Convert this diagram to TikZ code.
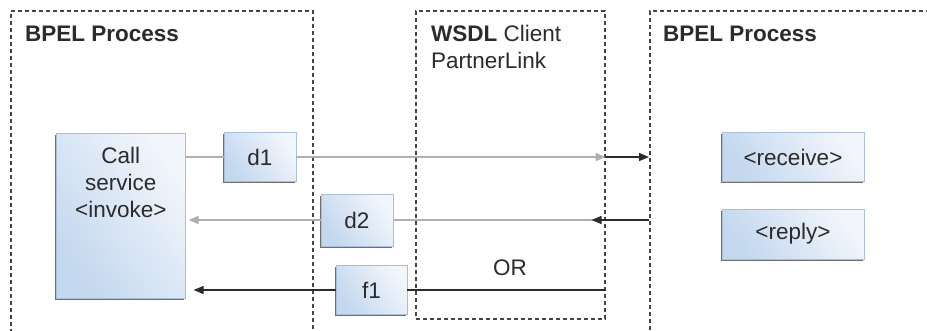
\documentclass[tikz,border=0pt]{standalone}
\usepackage{fontspec}
\setmainfont{Liberation Sans}
\usepackage{tikz}
\usetikzlibrary{positioning,arrows.meta,calc,shadows}
\definecolor{boxlo}{HTML}{C3D7EE}
\definecolor{boxhi}{HTML}{F2F6FC}
\definecolor{boxedge}{HTML}{A9BFD9}
\definecolor{msggray}{HTML}{B3ADAD}
\definecolor{ink}{HTML}{2B2B2B}
\definecolor{framegray}{HTML}{444444}

\begin{document}
\begin{tikzpicture}[x=1pt,y=-1pt,font=\fontsize{22.5}{27}\selectfont,text=ink,
		frame/.style={draw=framegray,line width=1.5pt,dash pattern=on 4pt off 3pt,inner sep=0pt,anchor=north west},
		act/.style={draw=boxedge,line width=0.6pt,inner sep=0pt,left color=boxlo,right color=boxhi,shading angle=125,
			drop shadow={shadow xshift=-1.5pt,shadow yshift=-1.8pt,fill=black!70,opacity=0.8}},
		ttl/.style={anchor=base west,inner sep=0pt},
		gline/.style={draw=msggray,line width=2pt},
		bline/.style={draw=ink,line width=1.3pt},
		msgtip/.style={-{Triangle[length=10pt,width=8pt]}}]
		\useasboundingbox (0,0) rectangle (927,330);
		\fill[white] (0,0) rectangle (927,330);
		\node[frame,minimum width=302pt,minimum height=345pt] (lbpel) at (10,10) {};
		\node[frame,minimum width=189pt,minimum height=308pt] (wsdl) at (415,10) {};
		\node[frame,minimum width=300pt,minimum height=345pt] (rbpel) at (649,10) {};
		\node[ttl,font=\fontsize{22.5}{27}\selectfont\bfseries] (ltitle) at (25,41) {BPEL Process};
		\node[ttl] (wtitle) at (431,41) {\textbf{WSDL} Client};
		\node[ttl] (wsub) at (431,68) {PartnerLink};
		\node[ttl,font=\fontsize{22.5}{27}\selectfont\bfseries] (rtitle) at (663,41) {BPEL Process};
		\node[act,anchor=north west,minimum width=129pt,minimum height=165pt] (call) at (56,133) {};
		\node[anchor=north,align=center,inner sep=0pt] (calltxt) at ($(call.north)+(0,14)$) {Call\\service\\<invoke>};
		\node[act,minimum width=72pt,minimum height=49pt] (d1) at (260,157) {d1};
		\node[act,minimum width=72pt,minimum height=52pt] (d2) at (357,220) {d2};
		\node[act,minimum width=71pt,minimum height=49pt] (f1) at (371.5,290) {f1};
		\node[act,minimum width=142pt,minimum height=49pt] (recv) at (793,157) {<receive>};
		\node[act,minimum width=142pt,minimum height=50pt] (reply) at (793,234) {<reply>};
		\node (or) at (510,268) {OR};
		\draw[gline] (call.east |- d1) -- (d1.west);
		\draw[gline,msgtip] (d1.east) -- (wsdl.east |- d1);
		\draw[bline,msgtip] (wsdl.east |- d1) -- (rbpel.west |- d1);
		\draw[gline] (wsdl.east |- d2) -- (d2.east);
		\draw[bline,msgtip] (rbpel.west |- d2) -- ($(wsdl.east |- d2)+(-14,0)$);
		\draw[gline,msgtip] (d2.west) -- ($(call.east |- d2)+(3,0)$);
		\draw[bline] (wsdl.east |- f1) -- (f1.east);
		\draw[bline,msgtip] (f1.west) -- ($(call.east |- f1)+(8,0)$);
	\end{tikzpicture}
\end{document}
